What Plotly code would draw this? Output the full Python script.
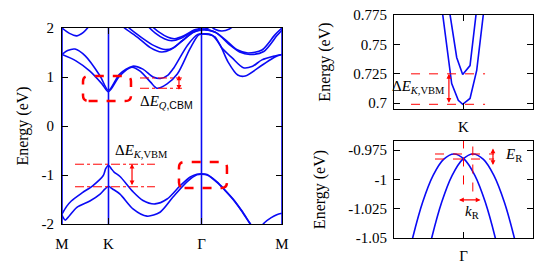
import plotly.graph_objects as go

# ---------------- data ----------------
k_ticks = [0.0, 0.5, 1.5, 2.366]
k_labels = ['M', 'K', 'Γ', 'M']

main_bands = {
    'c1': ([0, 0.15, 0.30, 0.43, 0.50, 0.62, 0.75, 0.84, 0.95, 1.02, 1.13, 1.24, 1.38, 1.47, 1.52, 1.61, 1.70, 1.785, 1.89, 1.97, 2.15, 2.29, 2.366],
           [1.46, 1.33, 1.12, 0.86, 0.70, 1.02, 1.20, 1.12, 0.90, 0.77, 0.86, 1.06, 1.59, 1.86, 1.88, 1.86, 1.65, 1.31, 1.04, 1.02, 1.24, 1.41, 1.46]),
    'c2': ([0, 0.06, 0.14, 0.25, 0.41, 0.50, 0.62, 0.76, 0.87, 0.98, 1.06, 1.14, 1.20, 1.35, 1.46, 1.52, 1.57, 1.645, 1.72, 1.83, 1.95, 2.05, 2.15, 2.29, 2.366],
           [1.46, 1.54, 1.57, 1.43, 1.02, 0.725, 1.06, 1.22, 1.16, 1.00, 0.97, 1.04, 1.18, 1.65, 1.87, 1.88, 1.87, 1.82, 1.59, 1.39, 1.19, 1.22, 1.35, 1.43, 1.46]),
    'c3': ([0.62, 0.66, 0.82, 0.95, 1.07, 1.17, 1.28, 1.40, 1.50, 1.645, 1.785, 1.89, 2.0, 2.15, 2.29, 2.366],
           [2.10, 2.02, 1.80, 1.60, 1.51, 1.56, 1.72, 1.90, 1.96, 1.92, 1.71, 1.55, 1.49, 1.55, 1.86, 2.00]),
    'c4': ([0.67, 0.71, 0.86, 0.99, 1.11, 1.20, 1.30, 1.42, 1.50, 1.66, 1.80, 1.91, 2.02, 2.17, 2.31, 2.366],
           [2.10, 2.02, 1.80, 1.64, 1.56, 1.60, 1.75, 1.92, 1.98, 1.90, 1.66, 1.51, 1.46, 1.52, 1.84, 1.96]),
    'c5': ([0.90, 1.00, 1.10, 1.18, 1.28, 1.40, 1.50, 1.56, 1.62],
           [2.08, 1.90, 1.78, 1.74, 1.79, 1.92, 1.97, 1.99, 2.06]),
    'c6': ([0.94, 1.04, 1.14, 1.21, 1.31, 1.42, 1.50, 1.55],
           [2.08, 1.92, 1.81, 1.78, 1.84, 1.96, 2.00, 2.06]),
    'c7': ([1.57, 1.65, 1.72, 1.80, 1.87],
           [2.08, 1.97, 1.94, 1.98, 2.08]),
    'c8': ([0, 0.08, 0.16, 0.23, 0.30],
           [2.00, 1.89, 1.84, 1.91, 2.06]),
    'v1': ([0, 0.05, 0.10, 0.22, 0.33, 0.444, 0.47, 0.50, 0.53, 0.56, 0.624, 0.763, 0.871, 1.00, 1.13, 1.27, 1.38, 1.45, 1.50, 1.56, 1.667, 1.75, 1.84, 1.93, 2.02, 2.08],
           [-1.80, -1.64, -1.53, -1.36, -1.22, -1.01, -0.87, -0.80, -0.87, -0.94, -1.03, -1.34, -1.52, -1.59, -1.49, -1.22, -1.04, -0.985, -0.975, -0.99, -1.14, -1.30, -1.49, -1.72, -1.98, -2.15]),
    'v2': ([0, 0.035, 0.08, 0.16, 0.30, 0.41, 0.46, 0.50, 0.54, 0.624, 0.763, 0.914, 1.054, 1.194, 1.344, 1.45, 1.50, 1.56, 1.667, 1.75, 1.84, 1.93, 2.02, 2.08],
           [-1.82, -1.92, -1.83, -1.66, -1.53, -1.39, -1.29, -1.23, -1.28, -1.39, -1.69, -1.84, -1.76, -1.45, -1.14, -0.995, -0.985, -1.0, -1.15, -1.31, -1.50, -1.73, -1.99, -2.16]),
    'v3': ([2.12, 2.18, 2.25, 2.31, 2.366],
           [-2.10, -1.97, -1.87, -1.81, -1.78]),
}

# inset 1 (around K, conduction band minimum)
ins1_lo_dk = [-0.030, -0.017, -0.0075, -0.0012, 0.0094, 0.019, 0.0286]
ins1_lo_E = [0.776, 0.7167, 0.7025, 0.699, 0.704, 0.728, 0.776]
ins1_up_dk = [-0.0195, -0.0098, -0.0012, 0.0094, 0.0181]
ins1_up_E = [0.776, 0.739, 0.7245, 0.732, 0.776]

# inset 2 (around Gamma, Rashba-split valence band)
ins2_a_dk = [-0.0837, -0.0731, -0.0587, -0.0437, -0.0287, -0.0137, 0.0013, 0.0163, 0.0313, 0.0457, 0.0563]
ins2_b_dk = [0.0837, 0.0731, 0.0587, 0.0437, 0.0287, 0.0137, -0.0013, -0.0163, -0.0313, -0.0457, -0.0563]
ins2_E = [-1.0778, -1.05, -1.0195, -0.9967, -0.9830, -0.9784, -0.9830, -0.9967, -1.0195, -1.05, -1.0778]

ins1_yticks = [0.7, 0.725, 0.75, 0.775]
ins1_ytext = ['0.7', '0.725', '0.75', '0.775']
ins2_yticks = [-1.05, -1.025, -1.0, -0.975]
ins2_ytext = ['-1.05', '-1.025', '-1', '-0.975']
main_yticks = [-2, -1, 0, 1, 2]
main_ytext = ['-2', '-1', '0', '1', '2']

# annotation geometry
box_K = (0.226, 0.742, 0.51, 1.02)
box_G = (1.258, 1.774, -1.265, -0.735)
q_lines_x = (0.839, 1.29); q_lines_y = (0.98, 0.77); q_arrow = (1.258, 0.71, 1.03)
kv_lines_x = (0.14, 1.0); kv_lines_y = (-0.78, -1.24); kv_arrow = (0.753, -1.24, -0.77)
i1_lines_x = (-0.0755, 0.031); i1_lines_y = (0.725, 0.699); i1_arrow = (-0.021, 0.699, 0.725)
i2_vlines = [(0.0, -0.966, -1.012), (0.0134, -0.972, -1.012)]
i2_hlines_x = (-0.041, 0.044); i2_hlines_y = (-0.9784, -0.9827)
i2_varrow = (0.0424, -0.9724, -0.9878)
i2_harrow = (-1.0177, -0.0086, 0.0245)

BLUE = 'rgb(10,10,245)'
RED = 'rgb(255,0,0)'
FONT = 'Liberation Serif'

fig = go.Figure()

for name, (kk, ee) in main_bands.items():
    fig.add_trace(go.Scatter(x=kk, y=ee, mode='lines', line=dict(color=BLUE, width=1.6, shape='spline', smoothing=0.8),
                             xaxis='x', yaxis='y', hoverinfo='skip'))

fig.add_trace(go.Scatter(x=ins1_lo_dk, y=ins1_lo_E, mode='lines', line=dict(color=BLUE, width=1.6), xaxis='x2', yaxis='y2'))
fig.add_trace(go.Scatter(x=ins1_up_dk, y=ins1_up_E, mode='lines', line=dict(color=BLUE, width=1.6), xaxis='x2', yaxis='y2'))
fig.add_trace(go.Scatter(x=ins2_a_dk, y=ins2_E, mode='lines', line=dict(color=BLUE, width=1.6, shape='spline'), xaxis='x3', yaxis='y3'))
fig.add_trace(go.Scatter(x=ins2_b_dk, y=ins2_E, mode='lines', line=dict(color=BLUE, width=1.6, shape='spline'), xaxis='x3', yaxis='y3'))

shapes = []
for kt in k_ticks:
    shapes.append(dict(type='line', xref='x', yref='y', x0=kt, x1=kt, y0=-2, y1=2,
                       line=dict(color=BLUE, width=1.6), layer='below'))


def rounded_box(b, rx, ry, xr, yr):
    x0, x1, y0, y1 = b
    p = (f'M {x0+rx},{y0} L {x1-rx},{y0} Q {x1},{y0} {x1},{y0+ry} L {x1},{y1-ry} '
         f'Q {x1},{y1} {x1-rx},{y1} L {x0+rx},{y1} Q {x0},{y1} {x0},{y1-ry} L {x0},{y0+ry} Q {x0},{y0} {x0+rx},{y0} Z')
    return dict(type='path', path=p, xref=xr, yref=yr, line=dict(color=RED, width=2.5, dash='dash'))


shapes.append(rounded_box(box_K, 0.06, 0.11, 'x', 'y'))
shapes.append(rounded_box(box_G, 0.06, 0.11, 'x', 'y'))

for yv in q_lines_y:
    shapes.append(dict(type='line', xref='x', yref='y', x0=q_lines_x[0], x1=q_lines_x[1], y0=yv, y1=yv,
                       line=dict(color=RED, width=1, dash='dashdot')))
for yv in kv_lines_y:
    shapes.append(dict(type='line', xref='x', yref='y', x0=kv_lines_x[0], x1=kv_lines_x[1], y0=yv, y1=yv,
                       line=dict(color=RED, width=1, dash='dashdot')))
for yv in i1_lines_y:
    shapes.append(dict(type='line', xref='x2', yref='y2', x0=i1_lines_x[0], x1=i1_lines_x[1], y0=yv, y1=yv,
                       line=dict(color=RED, width=1, dash='dash')))
for xv, ya, yb in i2_vlines:
    shapes.append(dict(type='line', xref='x3', yref='y3', x0=xv, x1=xv, y0=ya, y1=yb,
                       line=dict(color=RED, width=1, dash='dash')))
for yv in i2_hlines_y:
    shapes.append(dict(type='line', xref='x3', yref='y3', x0=i2_hlines_x[0], x1=i2_hlines_x[1], y0=yv, y1=yv,
                       line=dict(color=RED, width=1, dash='dash')))

annotations = []


def darrow(x0, y0, x1, y1, xr, yr):
    return dict(x=x1, y=y1, ax=x0, ay=y0, xref=xr, yref=yr, axref=xr, ayref=yr, text='',
                showarrow=True, arrowhead=2, arrowside='end+start', arrowsize=0.8, arrowwidth=1.2,
                arrowcolor=RED)


annotations.append(darrow(q_arrow[0], q_arrow[1], q_arrow[0], q_arrow[2], 'x', 'y'))
annotations.append(darrow(kv_arrow[0], kv_arrow[1], kv_arrow[0], kv_arrow[2], 'x', 'y'))
annotations.append(darrow(i1_arrow[0], i1_arrow[1], i1_arrow[0], i1_arrow[2], 'x2', 'y2'))
annotations.append(darrow(i2_varrow[0], i2_varrow[1], i2_varrow[0], i2_varrow[2], 'x3', 'y3'))
annotations.append(darrow(i2_harrow[1], i2_harrow[0], i2_harrow[2], i2_harrow[0], 'x3', 'y3'))

tf = dict(family=FONT, size=15, color='black')
annotations.append(dict(x=1.12, y=0.50, xref='x', yref='y', showarrow=False, font=tf,
                        text="Δ<i>E</i><sub><i>Q</i><span style='font-family:Liberation Sans'>,CBM</span></sub>"))
annotations.append(dict(x=0.85, y=-0.51, xref='x', yref='y', showarrow=False, font=tf,
                        text="Δ<i>E</i><sub><i>K</i>,VBM</sub>"))
annotations.append(dict(x=-0.065, y=0.7136, xref='x2', yref='y2', showarrow=False, font=tf,
                        text="Δ<i>E</i><sub><i>K</i>,VBM</sub>"))
annotations.append(dict(x=0.072, y=-0.979, xref='x3', yref='y3', showarrow=False, font=tf,
                        text="<i>E</i><sub>R</sub>"))
annotations.append(dict(x=0.012, y=-1.028, xref='x3', yref='y3', showarrow=False, font=tf,
                        text="<i>k</i><sub>R</sub>"))

# page body has an 8px margin; lay out in window pixels and shift
PAD = 8
W, H = 548 - PAD, 270 - PAD


def dx(a, b):
    return [(a - PAD) / W, (b - PAD) / W]


def dy(top, bottom):
    return [1 - (bottom - PAD) / H, 1 - (top - PAD) / H]


ax_common = dict(showline=True, mirror='ticks', linecolor='black', linewidth=1.2, ticks='inside', ticklen=6,
                 tickcolor='black', tickwidth=1.2, showgrid=False, zeroline=False, automargin=False,
                 ticklabeloverflow='allow', tickfont=dict(family=FONT, size=15, color='black'))
title_font = dict(family=FONT, size=16, color='black')

fig.update_layout(
    width=W, height=H, margin=dict(l=0, r=0, t=0, b=0, autoexpand=False), showlegend=False,
    paper_bgcolor='white', plot_bgcolor='white',
    xaxis=dict(ax_common, domain=dx(62, 282), range=[0, 2.366], tickvals=k_ticks, ticktext=k_labels,
               anchor='y', ticklabelstandoff=6),
    yaxis=dict(ax_common, domain=dy(28, 224), range=[-2, 2], tickvals=main_yticks, ticktext=main_ytext,
               anchor='x', title=dict(text='Energy (eV)', font=title_font, standoff=8),
               ticklabelstandoff=4),
    xaxis2=dict(ax_common, domain=dx(394, 533), range=[-0.1, 0.1], tickvals=[0], ticktext=['K'],
                anchor='y2', ticklabelstandoff=4),
    yaxis2=dict(ax_common, domain=dy(15, 109), range=[0.695, 0.7752], tickvals=ins1_yticks,
                ticktext=ins1_ytext, anchor='x2',
                title=dict(text='Energy (eV)', font=title_font, standoff=18), ticklabelstandoff=3),
    xaxis3=dict(ax_common, domain=dx(394, 533), range=[-0.1, 0.1], tickvals=[0], ticktext=['Γ'],
                anchor='y3', ticklabelstandoff=4),
    yaxis3=dict(ax_common, domain=dy(141, 238), range=[-1.0502, -0.9673], tickvals=ins2_yticks,
                ticktext=ins2_ytext, anchor='x3',
                title=dict(text='Energy (eV)', font=title_font, standoff=18), ticklabelstandoff=3),
    shapes=shapes, annotations=annotations,
)

fig.write_html('out.html')
